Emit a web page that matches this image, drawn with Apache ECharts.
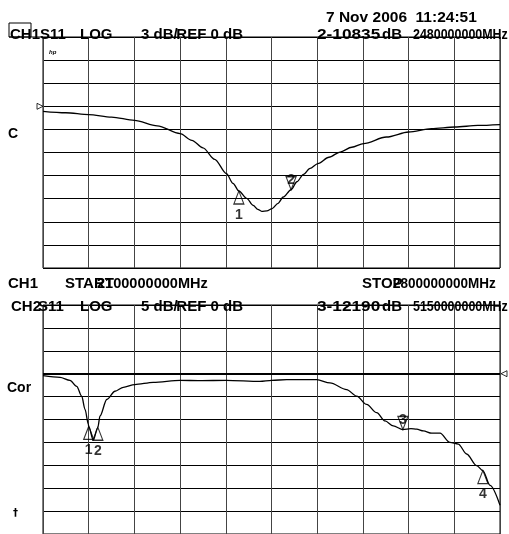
<!DOCTYPE html>
<html>
<head>
<meta charset="utf-8">
<script src="https://cdn.jsdelivr.net/npm/echarts@6/dist/echarts.min.js"></script>
<style>html,body{margin:0;padding:0;background:#fff}#c{width:509px;height:534px}</style>
</head>
<body>
<div id="c"></div>
<script>
// CH1: 2100 - 2800 MHz, 3 dB/div, REF 0 dB
var ch1Freq = [2100,2135,2170,2205,2240,2275,2310,2328,2345,2363,2381,2391,2400,2412,2422,2429,2435,2443,2451,2460,2468,2480,2489,2499,2509,2521,2538,2555,2573,2591,2626,2660,2695,2731,2766,2800];
var ch1Db   = [-0.65,-0.84,-1.08,-1.40,-1.82,-2.53,-3.55,-4.42,-5.39,-6.88,-8.74,-10.0,-11.0,-11.95,-12.86,-13.38,-13.64,-13.57,-13.29,-12.6,-11.78,-10.835,-9.8,-8.83,-8.05,-7.44,-6.62,-5.94,-5.32,-4.84,-3.99,-3.34,-2.9,-2.69,-2.49,-2.38];
var ch1MarkerFreq = [2400, 2480];
var ch1MarkerDb   = [-11.0, -10.835];
var ch1MarkerName = ['1', '2'];
var ch1MarkerDown = [false, true];

// CH2: 2000 - 6000 MHz, 5 dB/div, REF 0 dB
var ch2Freq = [2000,2149,2236,2295,2339,2368,2397,2400,2440,2480,2499,2558,2630,2703,2803,2965,3202,3374,3604,3899,4002,4133,4396,4512,4658,4746,4833,4921,4994,5066,5150,5220,5271,5329,5402,5475,5562,5635,5708,5796,5850,5913,6000];
var ch2Db   = [-0.43,-0.8,-1.45,-2.75,-4.91,-7.79,-11.04,-11.5,-14.5,-11.7,-9.24,-5.63,-3.83,-2.97,-2.38,-1.88,-1.45,-1.52,-1.45,-1.67,-1.45,-1.3,-1.3,-2.01,-3.46,-4.91,-6.71,-8.51,-10.32,-11.41,-12.19,-12.0,-12.12,-12.49,-12.99,-12.99,-15.0,-15.37,-17.53,-20.07,-21.15,-24.39,-28.72];
var ch2MarkerFreq = [2400, 2480, 5150, 5850];
var ch2MarkerDb   = [-11.5, -11.7, -12.19, -21.15];
var ch2MarkerName = ['1', '2', '3', '4'];
var ch2MarkerDown = [false, false, true, false];

function pairs(a, b) { return a.map(function (v, i) { return [v, b[i]]; }); }

var F = 'bold 15px "Liberation Sans", Arial, sans-serif';
function txt(s, x, y, opt) {
  opt = opt || {};
  return {
    type: 'text', x: x, y: y, z: 100,
    scaleX: opt.sx || 1,
    style: { text: s, font: opt.font || F, fill: '#000', align: opt.align || 'left', verticalAlign: 'middle' }
  };
}

function markerSeries(xi, yi, freq, db, names, down) {
  var up = [], dn = [];
  freq.forEach(function (f, i) {
    (down[i] ? dn : up).push({ value: [f, db[i]], name: names[i] });
  });
  var base = {
    type: 'scatter', xAxisIndex: xi, yAxisIndex: yi, clip: false, z: 20, silent: true,
    symbol: 'triangle', symbolSize: [10, 13],
    itemStyle: { color: 'rgba(0,0,0,0)', borderColor: '#000', borderWidth: 1.2 }
  };
  return [
    Object.assign({}, base, {
      data: up, symbolOffset: [0, 6.5],
      label: { show: true, formatter: '{b}', position: 'bottom', distance: 3, color: '#000',
               fontFamily: 'Liberation Sans', fontWeight: 'bold', fontSize: 14 }
    }),
    Object.assign({}, base, {
      data: dn, symbolOffset: [0, -6.5], symbolRotate: 180,
      label: { show: true, formatter: '{b}', position: 'inside', offset: [0, -3], color: '#000',
               fontFamily: 'Liberation Sans', fontWeight: 'bold', fontSize: 14 }
    })
  ];
}

var gridStyle = { show: true, borderColor: '#000', borderWidth: 1, backgroundColor: 'rgba(0,0,0,0)' };
function xAx(gi, min, max, interval) {
  return { type: 'value', gridIndex: gi, min: min, max: max, interval: interval,
    axisLine: { show: false }, axisTick: { show: false }, axisLabel: { show: false },
    splitLine: { show: true, lineStyle: { color: '#444', width: 1 } } };
}
function yAx(gi, min, max, interval) {
  return { type: 'value', gridIndex: gi, min: min, max: max, interval: interval,
    axisLine: { show: false }, axisTick: { show: false }, axisLabel: { show: false },
    splitLine: { show: true, lineStyle: { color: '#000', width: 1 } } };
}

var chart = echarts.init(document.getElementById('c'), null, { renderer: 'canvas' });
var series = [
  { type: 'line', xAxisIndex: 0, yAxisIndex: 0, data: pairs(ch1Freq, ch1Db), showSymbol: false,
    smooth: 0.3, smoothMonotone: 'x', lineStyle: { color: '#000', width: 1.3 }, z: 10, silent: true },
  { type: 'line', xAxisIndex: 1, yAxisIndex: 1, data: pairs(ch2Freq, ch2Db), showSymbol: false,
    smooth: 0.3, smoothMonotone: 'x', lineStyle: { color: '#000', width: 1.3 }, z: 10, silent: true,
    markLine: { silent: true, symbol: 'none', label: { show: false },
      lineStyle: { color: '#000', width: 2, type: 'solid' }, data: [{ yAxis: 0 }] } },
  // reference-level pointers
  { type: 'scatter', xAxisIndex: 0, yAxisIndex: 0, clip: false, silent: true, data: [[2100, 0]],
    symbol: 'triangle', symbolSize: [6, 6], symbolRotate: -90, symbolOffset: [-3, 0],
    itemStyle: { color: '#fff', borderColor: '#000', borderWidth: 1 } },
  { type: 'scatter', xAxisIndex: 1, yAxisIndex: 1, clip: false, silent: true, data: [[6000, 0]],
    symbol: 'triangle', symbolSize: [6, 6], symbolRotate: 90, symbolOffset: [4, 0],
    itemStyle: { color: '#fff', borderColor: '#000', borderWidth: 1 } }
].concat(markerSeries(0, 0, ch1MarkerFreq, ch1MarkerDb, ch1MarkerName, ch1MarkerDown))
 .concat(markerSeries(1, 1, ch2MarkerFreq, ch2MarkerDb, ch2MarkerName, ch2MarkerDown));

chart.setOption({
  animation: false,
  backgroundColor: '#fff',
  grid: [
    Object.assign({ left: 43, top: 37, width: 457, height: 231 }, gridStyle),
    Object.assign({ left: 43, top: 305, width: 457, height: 231 }, gridStyle)
  ],
  xAxis: [xAx(0, 2100, 2800, 70), xAx(1, 2000, 6000, 400)],
  yAxis: [yAx(0, -21, 9, 3), yAx(1, -35, 15, 5)],
  series: series,
  graphic: [
    { type: 'rect', shape: { x: 9, y: 23, width: 22, height: 14 }, style: { fill: 'none', stroke: '#000', lineWidth: 1 }, z: 90 },
    { type: 'line', shape: { x1: 9, y1: 37, x2: 43, y2: 37 }, style: { stroke: '#000', lineWidth: 1 }, z: 90 },
    txt('7 Nov 2006  11:24:51', 326, 18, { font: 'bold 15.5px "Liberation Sans", Arial, sans-serif' }),
    txt('CH1', 10, 35), txt('S11', 40, 35), txt('LOG', 80, 35),
    txt('3 dB/', 141, 35), txt('REF 0 dB', 243, 35, { align: 'right' }),
    txt('2-10835', 317, 35, { sx: 1.15 }), txt('dB', 402, 35, { align: 'right' }),
    txt('2480000000MHz', 413, 35, { sx: 0.83 }),
    txt('hp', 49, 52, { font: 'italic bold 6px "Liberation Sans", Arial, sans-serif' }),
    txt('C', 8, 134, { font: 'bold 14px "Liberation Sans", Arial, sans-serif' }),
    txt('CH1', 8, 284), txt('START', 65, 284), txt('2100000000MHz', 97, 284, { sx: 0.97 }),
    txt('STOP', 362, 284), txt('2800000000MHz', 393, 284, { sx: 0.9 }),
    txt('CH2', 11, 307), txt('S11', 38, 307), txt('LOG', 80, 307),
    txt('5 dB/', 141, 307), txt('REF 0 dB', 243, 307, { align: 'right' }),
    txt('3-12190', 317, 307, { sx: 1.15 }), txt('dB', 402, 307, { align: 'right' }),
    txt('5150000000MHz', 413, 307, { sx: 0.83 }),
    txt('Cor', 7, 388, { font: 'bold 14px "Liberation Sans", Arial, sans-serif' }),
    txt('†', 13, 513, { font: 'bold 10px "DejaVu Sans", sans-serif' })
  ]
});
</script>
</body>
</html>
